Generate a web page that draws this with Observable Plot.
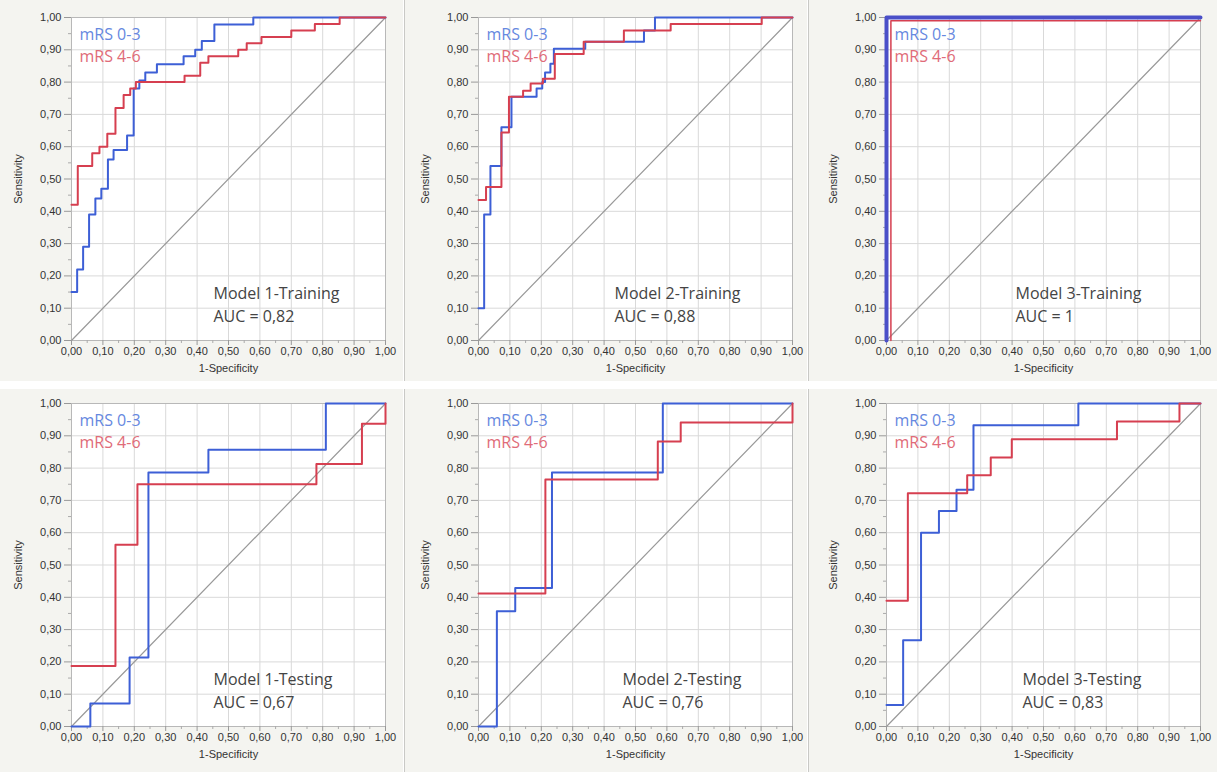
<!DOCTYPE html>
<html><head><meta charset="utf-8">
<script src="https://cdn.jsdelivr.net/npm/d3@7"></script>
<script src="https://cdn.jsdelivr.net/npm/@observablehq/plot@0.6"></script>
<style>
body{margin:0;background:#fff;width:1217px;height:772px;position:relative;overflow:hidden}
.bg{position:absolute;background:#f4f4f0}
.panel{position:absolute}
.sep{position:absolute;width:1px;background:#c9c9c6}
</style></head><body>
<script>
// ---- data ----
const seriesNames = ["mRS 0-3", "mRS 4-6"];
const panelTitles = ["Model 1-Training", "Model 2-Training", "Model 3-Training",
                     "Model 1-Testing", "Model 2-Testing", "Model 3-Testing"];
const aucLabels = ["0,82", "0,88", "1", "0,67", "0,76", "0,83"];
const tickValues = [0, 0.1, 0.2, 0.3, 0.4, 0.5, 0.6, 0.7, 0.8, 0.9, 1];
const minorTickValues = [0.05, 0.15, 0.25, 0.35, 0.45, 0.55, 0.65, 0.75, 0.85, 0.95];
const chanceLine = [[0, 0], [1, 1]];

// [1-specificity, sensitivity] corner points of each ROC step curve
const m1TrainLow = [[0,0.15],[0.018,0.22],[0.037,0.29],[0.056,0.39],[0.076,0.44],[0.095,0.47],[0.116,0.56],[0.134,0.59],[0.177,0.635],[0.198,0.78],[0.216,0.805],[0.235,0.83],[0.272,0.855],[0.357,0.88],[0.394,0.90],[0.415,0.927],[0.455,0.978],[0.579,1],[1,1]];
const m1TrainHigh = [[0,0.42],[0.02,0.54],[0.066,0.58],[0.089,0.60],[0.114,0.64],[0.14,0.72],[0.166,0.76],[0.187,0.78],[0.205,0.80],[0.36,0.82],[0.41,0.86],[0.436,0.88],[0.531,0.90],[0.558,0.92],[0.605,0.94],[0.70,0.96],[0.775,0.98],[0.854,1],[1,1]];
const m2TrainLow = [[0,0.10],[0.018,0.39],[0.038,0.54],[0.073,0.66],[0.105,0.755],[0.185,0.78],[0.203,0.80],[0.212,0.83],[0.229,0.857],[0.240,0.903],[0.34,0.925],[0.527,0.96],[0.562,1],[1,1]];
const m2TrainHigh = [[0,0.435],[0.024,0.475],[0.073,0.644],[0.097,0.755],[0.142,0.773],[0.166,0.796],[0.205,0.81],[0.243,0.887],[0.335,0.925],[0.463,0.96],[0.612,0.98],[0.902,1],[1,1]];
const m3TrainLow = [[0,0],[0,1],[1,1]];
const m3TrainHigh = [[0.014,0],[0.014,0.99],[1,0.99]];
const m1TestLow = [[0,0],[0.06,0.0714],[0.185,0.214],[0.245,0.786],[0.436,0.857],[0.81,1],[1,1]];
const m1TestHigh = [[0,0.1875],[0.14,0.5625],[0.21,0.75],[0.78,0.8125],[0.925,0.9375],[1,1]];
const m2TestLow = [[0,0],[0.0585,0.357],[0.117,0.4286],[0.234,0.786],[0.587,1],[1,1]];
const m2TestHigh = [[0,0.4118],[0.213,0.765],[0.571,0.882],[0.644,0.941],[1,1]];
const m3TestLow = [[0,0.0667],[0.053,0.267],[0.11,0.60],[0.167,0.667],[0.223,0.733],[0.277,0.933],[0.611,1],[1,1]];
const m3TestHigh = [[0,0.389],[0.068,0.722],[0.257,0.778],[0.332,0.833],[0.399,0.889],[0.734,0.944],[0.933,1],[1,1]];

const lowCurves = [m1TrainLow, m2TrainLow, m3TrainLow, m1TestLow, m2TestLow, m3TestLow];
const highCurves = [m1TrainHigh, m2TrainHigh, m3TrainHigh, m1TestHigh, m2TestHigh, m3TestHigh];

// ---- layout / style ----
const blue = "#3d5fd6", red = "#d63f50";
const blueText = "#6688e0", redText = "#e06b78";
const panelLeft = [1, 408, 816, 1, 408, 816];
const panelTop = [0, 0, 0, 386, 386, 386];
const titleDx = [142, 136, 129, 142, 144, 136];
const fmt = d => d.toFixed(2).replace(".", ",");

// backgrounds and separators
[[0,0,403,381],[405,0,402,381],[809,0,408,381],[0,389,403,383],[405,389,402,383],[809,389,408,383]].forEach(([l,t,w,h]) => {
  const d = document.createElement("div"); d.className = "bg";
  Object.assign(d.style, {left:l+"px", top:t+"px", width:w+"px", height:h+"px"});
  document.body.appendChild(d);
});
[[404,0,381],[808,0,381],[404,389,383],[808,389,383]].forEach(([l,t,h]) => {
  const d = document.createElement("div"); d.className = "sep";
  Object.assign(d.style, {left:l+"px", top:t+"px", height:h+"px"});
  document.body.appendChild(d);
});

for (let i = 0; i < 6; i++) {
  const thick = i === 2;
  const chart = Plot.plot({
    width: 400, height: 381,
    marginLeft: 70, marginRight: 16, marginTop: 17, marginBottom: 41,
    x: {domain: [0, 1]},
    y: {domain: [0, 1]},
    style: {background: "transparent", fontFamily: "'Liberation Sans', Arial, sans-serif", fontSize: "11px", color: "#333"},
    marks: [
      Plot.frame({fill: "white", stroke: null}),
      Plot.gridX(tickValues, {stroke: "#d9d9d9", strokeOpacity: 1}),
      Plot.gridY(tickValues, {stroke: "#d9d9d9", strokeOpacity: 1}),
      Plot.frame({stroke: "#b8b8b8"}),
      Plot.axisX(tickValues, {tickFormat: fmt, tickSize: 5, tickPadding: 2, stroke: "#999",
        label: "1-Specificity", labelAnchor: "center", labelOffset: 31, labelArrow: "none", fontSize: 11}),
      Plot.axisX(minorTickValues, {tickFormat: () => "", tickSize: 3, stroke: "#aaa", label: null}),
      Plot.axisY(tickValues, {tickFormat: fmt, tickSize: 7, tickPadding: 3, stroke: "#999",
        label: "Sensitivity", labelAnchor: "center", labelOffset: 57, labelArrow: "none", fontSize: 11}),
      Plot.axisY(minorTickValues, {tickFormat: () => "", tickSize: 3, stroke: "#aaa", label: null}),
      Plot.line(chanceLine, {x: d => d[0], y: d => d[1], stroke: "#999", strokeWidth: 1.2}),
      ...(thick
        ? [Plot.line(highCurves[i], {x: d => d[0], y: d => d[1], curve: "step-after", stroke: red, strokeWidth: 1.5}),
           Plot.line(lowCurves[i], {x: d => d[0], y: d => d[1], curve: "step-after", stroke: "#4a4fc8", strokeWidth: 4})]
        : [Plot.line(lowCurves[i], {x: d => d[0], y: d => d[1], curve: "step-after", stroke: blue, strokeWidth: 2}),
           Plot.line(highCurves[i], {x: d => d[0], y: d => d[1], curve: "step-after", stroke: red, strokeWidth: 2})]),
      Plot.text([seriesNames[0]], {frameAnchor: "top-left", dx: 8, dy: 17, lineAnchor: "middle", textAnchor: "start",
        fill: blueText, fontSize: 16, fontFamily: "'Open Sans', sans-serif"}),
      Plot.text([seriesNames[1]], {frameAnchor: "top-left", dx: 8, dy: 39, lineAnchor: "middle", textAnchor: "start",
        fill: redText, fontSize: 16, fontFamily: "'Open Sans', sans-serif"}),
      Plot.text([panelTitles[i]], {frameAnchor: "bottom-left", dx: titleDx[i], dy: -47, lineAnchor: "middle", textAnchor: "start",
        fill: "#444", fontSize: 16, fontFamily: "'Open Sans', sans-serif"}),
      Plot.text(["AUC = " + aucLabels[i]], {frameAnchor: "bottom-left", dx: titleDx[i], dy: -24, lineAnchor: "middle", textAnchor: "start",
        fill: "#444", fontSize: 16, fontFamily: "'Open Sans', sans-serif"})
    ]
  });
  chart.classList.add("panel");
  chart.style.left = panelLeft[i] + "px";
  chart.style.top = panelTop[i] + "px";
  document.body.appendChild(chart);
}
</script>
</body></html>
